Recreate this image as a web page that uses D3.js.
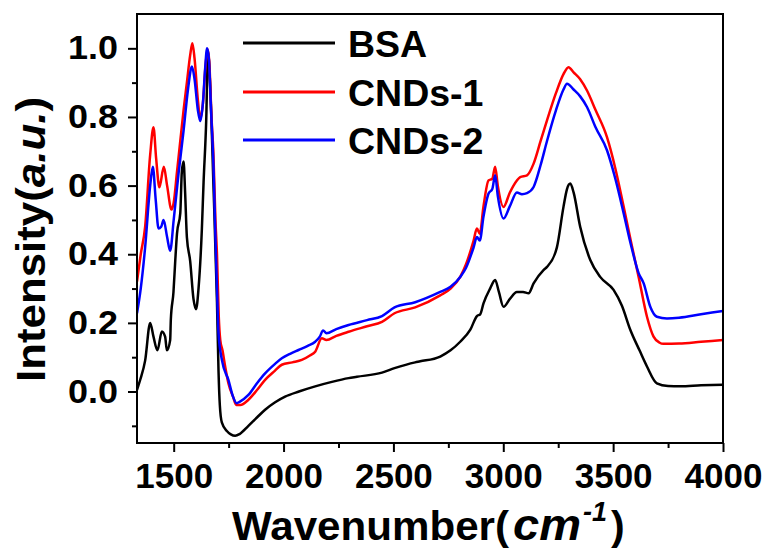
<!DOCTYPE html>
<html>
<head>
<meta charset="utf-8">
<script src="https://cdn.jsdelivr.net/npm/d3@7"></script>
<style>
  body { margin: 0; background: #fff; }
  text { font-family: "Liberation Sans", Arial, sans-serif; font-weight: bold; }
</style>
</head>
<body>
<div id="chart"></div>
<script>
// wavenumbers (cm-1) and intensities
const bsaWn = [1333,1348,1370,1393,1408,1426,1446,1461,1469,1484,1487,1499,1507,1515,1530,1537,1545,1552,1560,1575,1590,1602,1613,1628,1636,1648,1656,1666,1681,1697,1704,1710,1719,1742,1760,1780,1800,1840,1880,1916,1960,2007,2070,2144,2220,2296,2334,2448,2505,2599,2622,2713,2760,2804,2850,2880,2895,2910,2940,2963,2980,3001,3030,3062,3090,3115,3138,3183,3199,3244,3274,3290,3305,3320,3350,3396,3441,3502,3540,3578,3620,3654,3699,3750,3805,3900,4000];
const bsaVal = [0.005,0.035,0.09,0.20,0.16,0.12,0.175,0.16,0.12,0.15,0.21,0.29,0.38,0.46,0.52,0.64,0.67,0.58,0.45,0.38,0.27,0.24,0.30,0.47,0.61,0.79,0.99,0.89,0.60,0.26,0.06,-0.04,-0.09,-0.115,-0.125,-0.129,-0.124,-0.10,-0.075,-0.053,-0.032,-0.015,0.0,0.015,0.028,0.039,0.043,0.055,0.068,0.085,0.088,0.102,0.12,0.145,0.18,0.22,0.225,0.257,0.30,0.325,0.29,0.247,0.27,0.29,0.29,0.286,0.315,0.354,0.363,0.42,0.538,0.59,0.606,0.58,0.48,0.383,0.334,0.296,0.25,0.18,0.12,0.073,0.024,0.016,0.015,0.018,0.02];

const cnd1Wn = [1333,1350,1370,1393,1408,1420,1435,1455,1470,1490,1500,1515,1530,1545,1560,1575,1585,1595,1610,1621,1633,1645,1654,1662,1672,1681,1690,1697,1705,1712,1722,1735,1749,1770,1785,1803,1840,1880,1916,1960,1992,2040,2083,2120,2144,2174,2195,2240,2296,2380,2448,2505,2599,2713,2760,2804,2830,2865,2880,2893,2910,2933,2950,2963,2975,3001,3030,3062,3077,3108,3138,3170,3199,3240,3274,3297,3320,3350,3381,3420,3472,3510,3548,3580,3616,3654,3684,3710,3729,3800,3900,4000];
const cnd1Val = [0.32,0.40,0.48,0.69,0.77,0.68,0.595,0.655,0.60,0.53,0.55,0.64,0.73,0.82,0.90,0.98,1.015,0.97,0.85,0.795,0.84,0.95,0.998,0.96,0.80,0.69,0.50,0.40,0.22,0.15,0.12,0.07,0.024,-0.015,-0.039,-0.039,-0.024,0.005,0.034,0.06,0.078,0.085,0.092,0.105,0.116,0.155,0.15,0.162,0.174,0.19,0.203,0.228,0.245,0.28,0.30,0.334,0.37,0.44,0.475,0.46,0.54,0.615,0.62,0.655,0.60,0.538,0.58,0.615,0.625,0.63,0.664,0.73,0.79,0.87,0.925,0.945,0.93,0.91,0.877,0.82,0.741,0.65,0.538,0.44,0.334,0.218,0.16,0.143,0.139,0.14,0.145,0.15];

const cnd2Wn = [1333,1350,1370,1393,1405,1418,1431,1443,1454,1470,1484,1500,1522,1545,1565,1583,1595,1610,1621,1633,1643,1652,1660,1670,1681,1690,1697,1704,1720,1749,1770,1787,1800,1840,1880,1916,1960,1992,2030,2068,2110,2144,2165,2180,2195,2240,2296,2380,2448,2505,2599,2713,2760,2804,2830,2865,2880,2893,2910,2933,2950,2963,2975,3001,3030,3062,3085,3108,3138,3170,3199,3240,3274,3290,3320,3350,3381,3420,3472,3510,3548,3580,3616,3639,3669,3699,3745,3800,3900,4000];
const cnd2Val = [0.228,0.30,0.42,0.60,0.655,0.56,0.475,0.48,0.50,0.45,0.41,0.50,0.635,0.76,0.88,0.947,0.91,0.82,0.788,0.84,0.94,1.0,0.97,0.82,0.66,0.45,0.30,0.17,0.09,0.034,-0.015,-0.034,-0.03,-0.01,0.025,0.053,0.08,0.097,0.11,0.121,0.133,0.145,0.16,0.178,0.17,0.182,0.194,0.208,0.22,0.245,0.26,0.29,0.305,0.334,0.36,0.42,0.45,0.44,0.51,0.577,0.59,0.63,0.57,0.504,0.54,0.58,0.575,0.578,0.596,0.66,0.73,0.82,0.88,0.897,0.88,0.86,0.829,0.77,0.703,0.62,0.519,0.43,0.345,0.315,0.247,0.218,0.213,0.215,0.225,0.235];

const seriesNames = ["BSA", "CNDs-1", "CNDs-2"];
const seriesColors = ["#000000", "#ff0000", "#0000ff"];
const xTicks = [1500, 2000, 2500, 3000, 3500, 4000];
const xMinor = [1750, 2250, 2750, 3250, 3750];
const yTicks = [0.0, 0.2, 0.4, 0.6, 0.8, 1.0];
const yMinor = [-0.1, 0.1, 0.3, 0.5, 0.7, 0.9];

const width = 769, height = 554;
const margin = { top: 14, right: 46, bottom: 111, left: 137 };

const svg = d3.select("#chart").append("svg")
    .attr("width", width).attr("height", height);

const x = d3.scaleLinear().domain([1333, 4000]).range([margin.left, width - margin.right]);
const y = d3.scaleLinear().domain([-0.15, 1.1]).range([height - margin.bottom, margin.top]);

// clip so lines stay inside the frame
svg.append("clipPath").attr("id", "plot")
    .append("rect")
    .attr("x", margin.left).attr("y", margin.top)
    .attr("width", x.range()[1] - x.range()[0])
    .attr("height", y.range()[0] - y.range()[1]);

const line = d3.line()
    .x(d => x(d[0]))
    .y(d => y(d[1]))
    .curve(d3.curveMonotoneX);

const series = [
    d3.zip(bsaWn, bsaVal),
    d3.zip(cnd1Wn, cnd1Val),
    d3.zip(cnd2Wn, cnd2Val)
];

series.forEach((pts, i) => {
    svg.append("path")
        .attr("clip-path", "url(#plot)")
        .attr("d", line(pts))
        .attr("fill", "none")
        .attr("stroke", seriesColors[i])
        .attr("stroke-width", 2.5)
        .attr("stroke-linejoin", "round");
});

// axes: major + minor ticks, outward
const xAxis = svg.append("g")
    .attr("transform", `translate(0,${y.range()[0]})`)
    .call(d3.axisBottom(x).tickValues(xTicks).tickSize(9).tickPadding(11).tickFormat(d3.format("d")));
svg.append("g")
    .attr("transform", `translate(0,${y.range()[0]})`)
    .call(d3.axisBottom(x).tickValues(xMinor).tickSize(5).tickFormat(""));
const yAxis = svg.append("g")
    .attr("transform", `translate(${margin.left},0)`)
    .call(d3.axisLeft(y).tickValues(yTicks).tickSize(9).tickPadding(10).tickFormat(d3.format(".1f")));
svg.append("g")
    .attr("transform", `translate(${margin.left},0)`)
    .call(d3.axisLeft(y).tickValues(yMinor).tickSize(5).tickFormat(""));

svg.selectAll(".domain").remove();
svg.selectAll(".tick line").attr("stroke", "#000").attr("stroke-width", 2);
xAxis.selectAll("text").attr("font-size", 35).attr("fill", "#000")
    .attr("font-family", "Liberation Sans, Arial, sans-serif").attr("font-weight", "bold");
yAxis.selectAll("text").attr("font-size", 33).attr("fill", "#000")
    .attr("font-family", "Liberation Sans, Arial, sans-serif").attr("font-weight", "bold")
    .attr("textLength", 50).attr("lengthAdjust", "spacingAndGlyphs");

// frame
svg.append("rect")
    .attr("x", x.range()[0]).attr("y", y.range()[1])
    .attr("width", x.range()[1] - x.range()[0])
    .attr("height", y.range()[0] - y.range()[1])
    .attr("fill", "none").attr("stroke", "#000").attr("stroke-width", 2);

// legend
const legendY = [43, 92, 140];
seriesNames.forEach((name, i) => {
    svg.append("line")
        .attr("x1", 243).attr("x2", 335)
        .attr("y1", legendY[i]).attr("y2", legendY[i])
        .attr("stroke", seriesColors[i]).attr("stroke-width", 3);
    svg.append("text")
        .attr("x", 348).attr("y", legendY[i]).attr("dy", "0.36em")
        .attr("font-size", 37.5).attr("fill", "#000")
        .text(name);
});

// x axis title
svg.append("text").attr("x", 232).attr("y", 540).attr("font-size", 41)
    .attr("textLength", 277).attr("lengthAdjust", "spacingAndGlyphs")
    .text("Wavenumber(");
svg.append("text").attr("x", 513).attr("y", 540).attr("font-size", 44)
    .attr("font-style", "italic")
    .attr("textLength", 68).attr("lengthAdjust", "spacingAndGlyphs")
    .text("cm");
svg.append("text").attr("x", 583).attr("y", 521).attr("font-size", 27)
    .attr("font-style", "italic")
    .text("-1");
svg.append("text").attr("x", 611).attr("y", 540).attr("font-size", 41)
    .text(")");

// y axis title
const yTitle = svg.append("text")
    .attr("transform", "translate(45,382) rotate(-90)")
    .attr("font-size", 41)
    .attr("textLength", 285).attr("lengthAdjust", "spacingAndGlyphs");
yTitle.append("tspan").text("Intensity(");
yTitle.append("tspan").attr("font-style", "italic").text("a.u.");
yTitle.append("tspan").text(")");
</script>
</body>
</html>
